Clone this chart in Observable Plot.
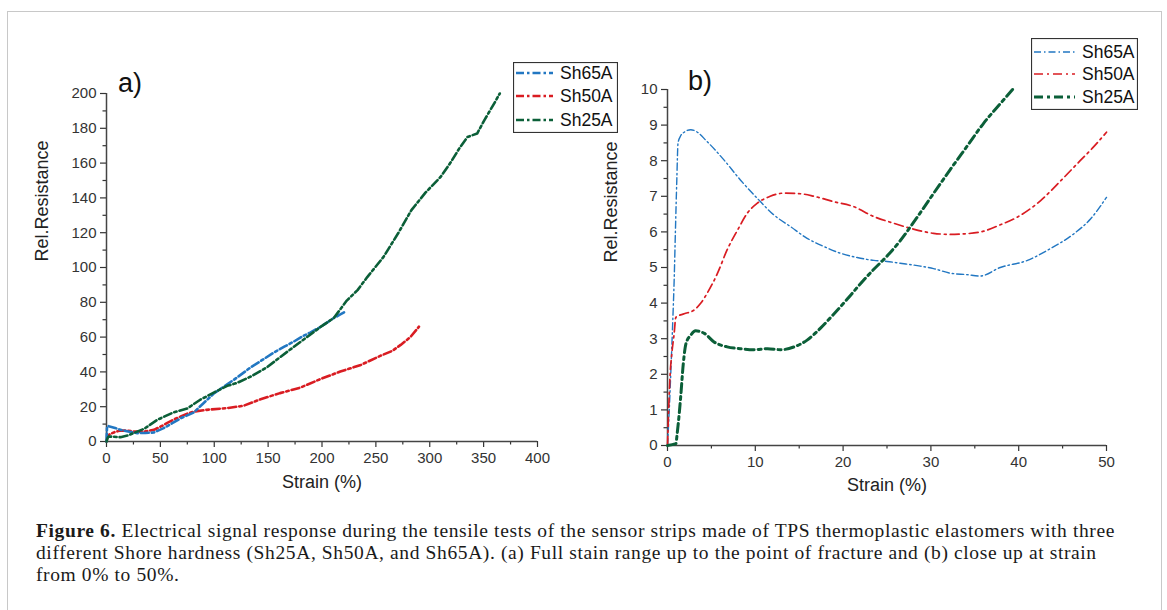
<!DOCTYPE html>
<html><head><meta charset="utf-8">
<script src="https://cdn.jsdelivr.net/npm/d3@7"></script>
<script src="https://cdn.jsdelivr.net/npm/@observablehq/plot@0.6"></script>
<style>
body{margin:0;background:#fff;}
#page{position:relative;width:1167px;height:610px;overflow:hidden;background:#fff;font-family:"Liberation Sans",Arial,sans-serif;}
#border{position:absolute;left:7px;top:11px;width:1155px;height:650px;border:1.5px solid #c8c8c8;box-sizing:border-box}
.panel{position:absolute;top:0}
.tag{position:absolute;font-size:27px;color:#111;line-height:1;font-family:"Liberation Sans",Arial,sans-serif}
.legend{position:absolute}
.cap{position:absolute;left:36px;font-family:"Liberation Serif","Times New Roman",serif;font-size:19.5px;line-height:22px;color:#1a1a1a;white-space:nowrap}
</style></head>
<body><div id="page"><div id="border"></div></div>
<script>
// ---------- data ----------
const series = ["Sh65A", "Sh50A", "Sh25A"];
const colors = ["#2277c2", "#d91c22", "#0b5f38"];

// Panel a) full strain range
const a65Strain = [0, 0.5, 2, 8, 13, 20, 28.5, 36, 44, 53, 61, 69, 81, 90, 100, 110, 118, 126, 134, 145, 155, 165, 174, 182, 189, 199, 205, 211, 217, 222];
const a65Value  = [0, 8.5, 8.8, 7.8, 6.7, 5.8, 4.8, 4.9, 5.2, 7.7, 10.5, 13.4, 16.7, 22, 27.8, 32, 35.4, 39, 42.7, 47, 51, 54.5, 57.5, 60.5, 62.6, 66, 68.5, 71, 73, 74.7];
const a50Strain = [0, 1, 3, 8, 13, 20, 25, 35, 44, 50, 56, 62, 69, 75, 81, 93, 112, 127, 143, 161, 180, 199, 217, 236, 254, 265, 273, 282, 290];
const a50Value  = [0, 3, 4.2, 5.5, 6.3, 6.2, 5.7, 5.7, 6.7, 8.5, 10.5, 12.5, 14.4, 16, 17.2, 18.2, 19.2, 20.5, 24.3, 27.8, 31, 36, 40.2, 44, 49.2, 52, 55.5, 60, 66];
const a25Strain = [0, 1, 2, 7, 13, 20, 25, 35, 47, 62, 75, 87, 100, 112, 121, 134, 149, 168, 186, 199, 211, 223, 233, 242, 257, 271, 283, 296, 310, 319, 328, 335, 344, 351, 360, 365];
const a25Value  = [0, 2, 2.9, 2.7, 2.5, 3.5, 4.8, 7.3, 12.4, 16.7, 19, 24, 28.2, 32, 33.6, 37.4, 42.7, 51.7, 60, 66, 71, 81, 87, 94.5, 106, 120, 133, 143, 152, 160, 169, 175, 177, 185, 194.5, 200];

// Panel b) close up 0-50 %
const b65Strain = [0, 0.2, 0.4, 0.6, 0.76, 0.9, 1.06, 1.2, 1.5, 1.9, 2.65, 3.2, 4.5, 6.4, 8.3, 10.2, 12.1, 14, 15.9, 17.8, 19.7, 21.6, 23.5, 25, 26.5, 28.8, 30.3, 32.2, 34.1, 35.6, 37.9, 41, 43.6, 46.3, 48.2, 50];
const b65Value  = [0, 1.0, 2.2, 3.5, 4.65, 6.0, 7.46, 8.5, 8.7, 8.8, 8.87, 8.83, 8.54, 8.03, 7.46, 6.95, 6.48, 6.15, 5.82, 5.59, 5.4, 5.28, 5.2, 5.17, 5.12, 5.04, 4.97, 4.84, 4.8, 4.76, 5.0, 5.2, 5.53, 5.95, 6.37, 6.97];
const b50Strain = [0, 0.3, 0.5, 0.76, 0.95, 1.9, 3, 3.8, 4.5, 5.7, 6.8, 8, 9.1, 10.2, 11.7, 13.3, 15.2, 16.7, 18.9, 21.2, 23.5, 25.8, 28, 30.3, 32.2, 34.1, 36, 37.9, 39.8, 42.5, 44.8, 47, 48.5, 50];
const b50Value  = [0, 2.0, 2.6, 3.15, 3.6, 3.7, 3.8, 4.0, 4.27, 4.84, 5.5, 6.06, 6.53, 6.8, 7.0, 7.09, 7.07, 7.0, 6.85, 6.71, 6.43, 6.24, 6.08, 5.96, 5.93, 5.95, 6.02, 6.2, 6.41, 6.88, 7.44, 8.0, 8.38, 8.8];
const b25Strain = [0, 0.95, 1.1, 1.3, 1.5, 1.8, 2.1, 2.65, 3.2, 4.2, 5.3, 6.8, 8.3, 9.8, 11.4, 12.9, 14.4, 15.9, 17.4, 18.9, 20.5, 22, 23.5, 25, 26.5, 28.4, 30.3, 32.2, 34.1, 36, 37.9, 39.3];
const b25Value  = [0, 0.05, 0.33, 0.8, 1.36, 2.3, 2.86, 3.1, 3.22, 3.15, 2.91, 2.77, 2.72, 2.69, 2.72, 2.69, 2.77, 2.96, 3.29, 3.68, 4.12, 4.55, 4.95, 5.32, 5.75, 6.4, 7.08, 7.75, 8.4, 9.05, 9.6, 10.0];

// axis ticks
const aXTicks = [0, 50, 100, 150, 200, 250, 300, 350, 400];
const aXMinor = [25, 75, 125, 175, 225, 275, 325, 375];
const aYTicks = [0, 20, 40, 60, 80, 100, 120, 140, 160, 180, 200];
const aYMinor = [10, 30, 50, 70, 90, 110, 130, 150, 170, 190];
const bXTicks = [0, 10, 20, 30, 40, 50];
const bXMinor = [5, 15, 25, 35, 45];
const bYTicks = [0, 1, 2, 3, 4, 5, 6, 7, 8, 9, 10];
const bYMinor = [0.5, 1.5, 2.5, 3.5, 4.5, 5.5, 6.5, 7.5, 8.5, 9.5];

const xLabel = "Strain (%)";
const yLabel = "Rel.Resistance";
const captionLines = [
  ["Figure 6.", " Electrical signal response during the tensile tests of the sensor strips made of TPS thermoplastic elastomers with three"],
  ["", "different Shore hardness (Sh25A, Sh50A, and Sh65A). (a) Full stain range up to the point of fracture and (b) close up at strain"],
  ["", "from 0% to 50%."]
];

// ---------- build ----------
const zip = (s, v) => s.map((x, i) => ({s: x, v: v[i]}));
const page = document.getElementById("page");
const font = "Liberation Sans, Arial, sans-serif";

function axes(xt, xm, yt, ym) {
  return [
    Plot.axisX({ticks: xt, tickSize: 6, tickPadding: 5, label: null, strokeWidth: 1.2, fontSize: 15}),
    Plot.axisX({ticks: xm, tickSize: 3.5, tickFormat: () => "", label: null, strokeWidth: 1.2}),
    Plot.axisY({ticks: yt, tickSize: 6, tickPadding: 4, label: null, strokeWidth: 1.2, fontSize: 15}),
    Plot.axisY({ticks: ym, tickSize: 3.5, tickFormat: () => "", label: null, strokeWidth: 1.2}),
    Plot.ruleX([0], {stroke: "#444", strokeWidth: 1.5}),
    Plot.ruleY([0], {stroke: "#444", strokeWidth: 1.5})
  ];
}

const plotA = Plot.plot({
  width: 580, height: 470,
  marginLeft: 106, marginRight: 43, marginTop: 93, marginBottom: 29,
  x: {domain: [0, 400], label: null},
  y: {domain: [0, 200], label: null},
  style: {fontFamily: font, fontSize: "15px", color: "#333", background: "transparent", overflow: "visible"},
  marks: [
    ...axes(aXTicks, aXMinor, aYTicks, aYMinor),
    Plot.line(zip(a50Strain, a50Value), {x: "s", y: "v", stroke: colors[1], strokeWidth: 2.6, strokeDasharray: "8,3,2.5,3"}),
    Plot.line(zip(a65Strain, a65Value), {x: "s", y: "v", stroke: colors[0], strokeWidth: 2.6, strokeDasharray: "8,3,2.5,3"}),
    Plot.line(zip(a25Strain, a25Value), {x: "s", y: "v", stroke: colors[2], strokeWidth: 2.6, strokeDasharray: "8,3,2.5,3"}),
    Plot.text([xLabel], {text: d => d, frameAnchor: "bottom", dy: 46, fontSize: 18, fill: "#222"}),
    Plot.text([yLabel], {text: d => d, frameAnchor: "left", dx: -64, dy: -6, rotate: -90, fontSize: 18, fill: "#222"})
  ]
});
plotA.classList.add("panel");
plotA.style.left = "0px";
page.appendChild(plotA);

const plotB = Plot.plot({
  width: 587, height: 480,
  marginLeft: 87, marginRight: 61, marginTop: 89, marginBottom: 35,
  x: {domain: [0, 50], label: null},
  y: {domain: [0, 10], label: null},
  style: {fontFamily: font, fontSize: "15px", color: "#333", background: "transparent", overflow: "visible"},
  marks: [
    ...axes(bXTicks, bXMinor, bYTicks, bYMinor),
    Plot.line(zip(b65Strain, b65Value), {x: "s", y: "v", curve: "monotone-x", stroke: colors[0], strokeWidth: 1.4, strokeDasharray: "7,3,1.5,3"}),
    Plot.line(zip(b50Strain, b50Value), {x: "s", y: "v", curve: "monotone-x", stroke: colors[1], strokeWidth: 1.7, strokeDasharray: "9,4,2,4"}),
    Plot.line(zip(b25Strain, b25Value), {x: "s", y: "v", curve: "monotone-x", stroke: colors[2], strokeWidth: 3, strokeDasharray: "9,4,3,4"}),
    Plot.text([xLabel], {text: d => d, frameAnchor: "bottom", dy: 45, fontSize: 18, fill: "#222"}),
    Plot.text([yLabel], {text: d => d, frameAnchor: "left", dx: -56, dy: -5, rotate: -90, fontSize: 18, fill: "#222"})
  ]
});
plotB.classList.add("panel");
plotB.style.left = "580px";
page.appendChild(plotB);

// panel tags
[["a)", 118, 70], ["b)", 688, 68]].forEach(([t, x, y]) => {
  const d = document.createElement("div");
  d.className = "tag"; d.textContent = t;
  d.style.left = x + "px"; d.style.top = y + "px";
  page.appendChild(d);
});

// legends
const NS = "http://www.w3.org/2000/svg";
function legend(x, y, w, h, rows, sampleW, dashes, widths) {
  const svg = document.createElementNS(NS, "svg");
  svg.setAttribute("width", w); svg.setAttribute("height", h);
  svg.setAttribute("class", "legend");
  svg.style.left = x + "px"; svg.style.top = y + "px";
  const r = document.createElementNS(NS, "rect");
  r.setAttribute("x", 0.5); r.setAttribute("y", 0.5); r.setAttribute("width", w - 1); r.setAttribute("height", h - 1);
  r.setAttribute("fill", "#fff"); r.setAttribute("stroke", "#333"); r.setAttribute("stroke-width", 1.2);
  svg.appendChild(r);
  series.forEach((s, i) => {
    const ln = document.createElementNS(NS, "line");
    ln.setAttribute("x1", 3); ln.setAttribute("x2", 3 + sampleW);
    ln.setAttribute("y1", rows[i]); ln.setAttribute("y2", rows[i]);
    ln.setAttribute("stroke", colors[i]); ln.setAttribute("stroke-width", widths[i]);
    ln.setAttribute("stroke-dasharray", dashes[i]);
    svg.appendChild(ln);
    const tx = document.createElementNS(NS, "text");
    tx.setAttribute("x", sampleW + 10); tx.setAttribute("y", rows[i]);
    tx.setAttribute("dy", "0.36em");
    tx.setAttribute("font-family", font); tx.setAttribute("font-size", 17.5);
    tx.setAttribute("fill", "#111");
    tx.textContent = s;
    svg.appendChild(tx);
  });
  page.appendChild(svg);
}
legend(513, 62, 105, 71, [11, 34, 58], 37, ["8,3,2.5,3", "8,3,2.5,3", "8,3,2.5,3"], [2.6, 2.6, 2.6]);
legend(1031, 38, 107, 72, [14, 36, 59], 41, ["7,3,1.5,3", "9,4,2,4", "9,4,3,4"], [1.4, 1.7, 3]);

// caption
const capDivs = captionLines.map(([b, t], i) => {
  const d = document.createElement("div");
  d.className = "cap";
  d.style.top = (520 + 22 * i) + "px";
  if (b) { const bb = document.createElement("b"); bb.textContent = b; d.appendChild(bb); }
  d.appendChild(document.createTextNode(t));
  page.appendChild(d);
  return d;
});
// fit line 1 to the reference width
const w0 = capDivs[0].getBoundingClientRect().width;
const n0 = (captionLines[0][0] + captionLines[0][1]).length;
const ls = (1079 - w0) / n0;
capDivs.forEach(d => d.style.letterSpacing = ls + "px");
</script></body></html>
